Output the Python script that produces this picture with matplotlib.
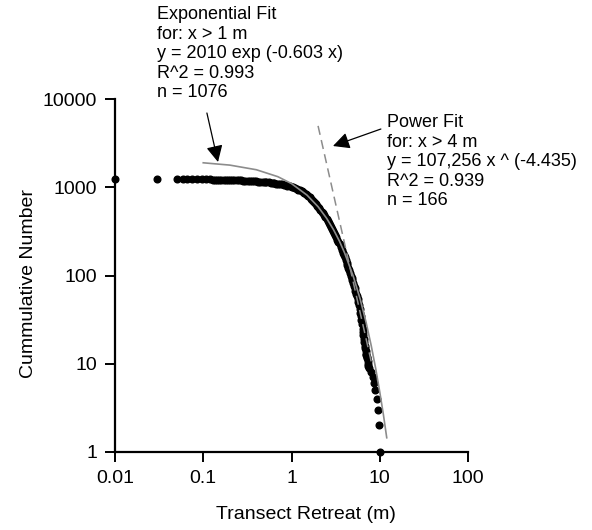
import matplotlib
matplotlib.use("Agg")
import matplotlib.pyplot as plt

plt.rcParams["font.family"] = ["Liberation Sans", "DejaVu Sans"]

# measured retreat (m) vs cumulative number of transects
retreat = [
    0.0100, 0.0297, 0.050, 0.0585, 0.066, 0.074, 0.084, 0.096, 0.107, 0.119,
    0.128, 0.136, 0.143, 0.15, 0.16, 0.17, 0.18, 0.19, 0.20, 0.21,
    0.225, 0.24, 0.255, 0.27, 0.285, 0.30, 0.32, 0.34, 0.36, 0.38,
    0.40, 0.42, 0.445, 0.47, 0.495, 0.52, 0.55, 0.58, 0.61, 0.64,
    0.67, 0.70, 0.74, 0.78, 0.82, 0.86, 0.90, 0.95,
    1.00, 1.05, 1.10, 1.15, 1.20, 1.25, 1.30, 1.35, 1.40, 1.45,
    1.50, 1.55, 1.60, 1.65, 1.70, 1.75, 1.80, 1.85, 1.90, 1.95,
    2.00, 2.05, 2.12, 2.20, 2.28, 2.35, 2.42, 2.50, 2.58, 2.65,
    2.72, 2.80, 2.88, 2.95, 3.02, 3.10, 3.20, 3.30, 3.40, 3.50,
    3.60, 3.70, 3.80, 3.90, 4.00, 4.10, 4.20, 4.30, 4.40, 4.50,
    4.60, 4.70, 4.80, 4.90, 5.00, 5.10, 5.20, 5.30, 5.40, 5.50,
    5.60, 5.70, 5.80, 5.90, 6.00, 6.10, 6.20, 6.30, 6.38, 6.45,
    6.52, 6.60, 6.68, 6.75, 6.82, 6.90, 6.98, 7.05, 7.12, 7.20,
    7.28, 7.35, 7.45, 7.55,
    7.9, 8.3, 8.5, 8.8, 9.2, 9.5, 9.75, 10.0,
]
cum_number = [
    1250, 1245, 1240, 1238, 1236, 1234, 1232, 1230, 1228, 1226,
    1224, 1222, 1221, 1220, 1218, 1215, 1212, 1210, 1208, 1205,
    1202, 1200, 1198, 1195, 1192, 1190, 1185, 1180, 1175, 1170,
    1165, 1160, 1155, 1150, 1145, 1140, 1132, 1125, 1118, 1110,
    1102, 1095, 1085, 1075, 1065, 1055, 1043, 1030,
    1015, 1000, 980, 960, 940, 920, 898, 875, 852, 830,
    810, 790, 768, 745, 722, 700, 680, 660, 640, 620,
    600, 580, 555, 530, 505, 480, 458, 435, 415, 395,
    375, 355, 337, 320, 305, 290, 272, 255, 240, 225,
    210, 195, 182, 170, 160, 150, 140, 130, 122, 115,
    107, 100, 94, 88, 82, 77, 72, 67, 62, 58,
    54, 50, 46, 42, 38, 35, 31, 28, 25, 23,
    21, 19, 17.5, 16, 15, 14, 13, 12.5, 12, 11.5,
    10.7, 10, 9.5, 9,
    8, 7, 6, 5, 4, 3, 2, 1,
]

# exponential fit curve (grey solid)
exp_x = [0.1, 0.2, 0.4, 0.7, 1.0, 1.5, 2.0, 2.5, 3.0, 3.5, 4.0, 5.0, 6.0, 7.0, 8.0, 9.0, 10.0, 11.0, 12.0]
exp_y = [1893, 1782, 1579, 1318, 1100, 814, 602, 445, 329, 244, 180, 98.5, 54, 29.5, 16.1, 8.8, 4.8, 2.65, 1.45]

# power fit curve (grey dashed)
pow_x = [2.0, 2.5, 3.0, 4.0, 5.0, 6.0, 7.0, 8.0]
pow_y = [4959, 1843, 821, 229, 85, 37.9, 19.2, 10.6]

x_ticks = [0.01, 0.1, 1, 10, 100]
x_ticklabels = ["0.01", "0.1", "1", "10", "100"]
y_ticks = [1, 10, 100, 1000, 10000]
y_ticklabels = ["1", "10", "100", "1000", "10000"]

exp_text = "Exponential Fit\nfor: x > 1 m\ny = 2010 exp (-0.603 x)\nR^2 = 0.993\nn = 1076"
pow_text = "Power Fit\nfor: x > 4 m\ny = 107,256 x ^ (-4.435)\nR^2 = 0.939\nn = 166"

W, H = 592, 530
fig = plt.figure(figsize=(W / 100, H / 100), dpi=100)
ax = fig.add_axes([115 / W, 1 - 452 / H, 353 / W, 353 / H])

ax.plot(retreat, cum_number, "o", color="black", ms=4.8, mec="black",
        clip_on=False, zorder=3)
ax.plot(exp_x, exp_y, "-", color="#8c8c8c", lw=1.2, zorder=4)
ax.plot(pow_x, pow_y, color="#8c8c8c", lw=1.1, dashes=(6, 3.5), zorder=4)

ax.set_xscale("log")
ax.set_yscale("log")
ax.set_xlim(0.01, 100)
ax.set_ylim(1, 10000)
ax.set_xticks(x_ticks)
ax.set_xticklabels(x_ticklabels)
ax.set_yticks(y_ticks)
ax.set_yticklabels(y_ticklabels)
ax.minorticks_off()
ax.tick_params(direction="out", length=7, width=1.4, labelsize=14, pad=6)

for side in ["top", "right"]:
    ax.spines[side].set_visible(False)
for side in ["left", "bottom"]:
    ax.spines[side].set_linewidth(1.6)

ax.set_xlabel("Transect Retreat (m)", fontsize=14)
ax.xaxis.set_label_coords(0.541, -0.176)
ax.xaxis.label.set_va("center")
ax.set_ylabel("Cummulative Number", fontsize=14)
ax.yaxis.set_label_coords(-0.245, 0.476)
ax.yaxis.label.set_va("center")

arrow = dict(arrowstyle="-|>,head_length=0.5,head_width=0.25", color="black",
             lw=0.9, mutation_scale=20, shrinkA=0, shrinkB=0)
ax.annotate("", xy=(0.147, 1932), xytext=(0.110, 6940), arrowprops=arrow,
            annotation_clip=False)
ax.annotate("", xy=(2.95, 2933), xytext=(10.3, 4570), arrowprops=arrow,
            annotation_clip=False)

fig.text(157 / W, 1 - 6 / H, exp_text, fontsize=13, va="top", ha="left",
         linespacing=1.2)
fig.text(387 / W, 1 - 114 / H, pow_text, fontsize=13, va="top", ha="left",
         linespacing=1.2)

fig.savefig("out.png", dpi=100)
